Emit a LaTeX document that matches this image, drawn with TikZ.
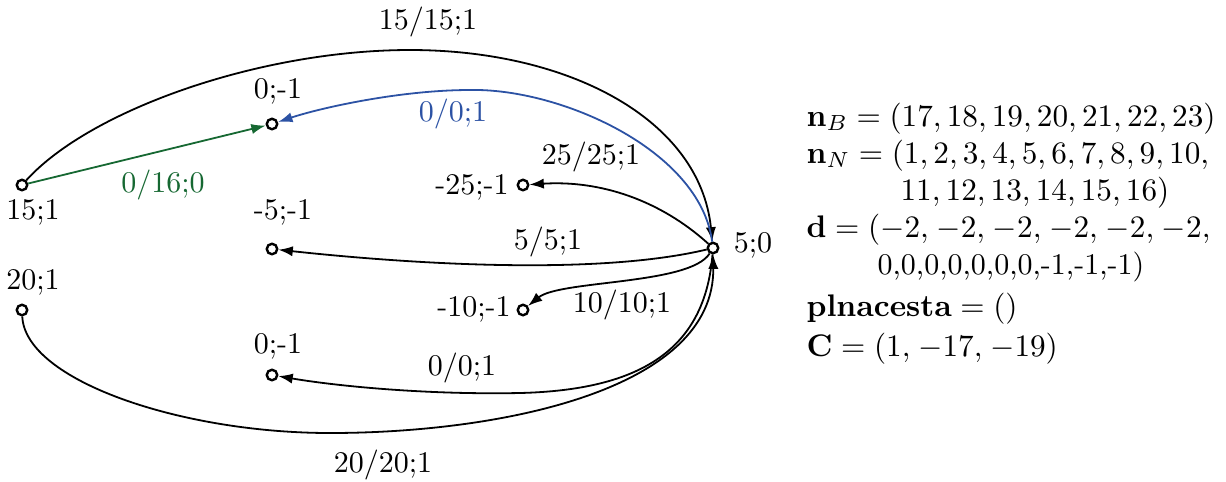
\documentclass[tikz,border=0pt]{standalone}
\usepackage{amsmath}
\usepackage{graphicx}
\usetikzlibrary{arrows.meta}
\definecolor{pathgreen}{RGB}{22,104,50}
\definecolor{pathblue}{RGB}{44,82,164}
\newcommand{\eqbox}[1]{\scalebox{1.04}{$#1$}}
\begin{document}
\begin{tikzpicture}[x=0.3333pt,y=-0.3333pt,
  vtx/.style={circle,draw,line width=0.8pt,fill=white,inner sep=0pt,minimum size=3.5pt},
  arc/.style={line width=0.6pt,-{Latex[length=4.8pt,width=3.4pt]}},
  lbl/.style={inner sep=0pt},
  eq/.style={inner sep=0pt,anchor=base west}]
\useasboundingbox (0,0) rectangle (1226,481);

% vertices
\node[vtx] (A) at (22,185) {};
\node[vtx] (B) at (272,124) {};
\node[vtx] (C) at (272,249) {};
\node[vtx] (D) at (22,310) {};
\node[vtx] (E) at (272,375) {};
\node[vtx] (F) at (523,185) {};
\node[vtx] (G) at (523,310) {};
\node[vtx] (H) at (713,248) {};

% vertex labels
\node[lbl] (lA) at (33,212) {15;1};
\node[lbl] (lB) at (278,91) {0;-1};
\node[lbl] (lC) at (283,212) {-5;-1};
\node[lbl] (lD) at (33,282) {20;1};
\node[lbl] (lE) at (278,346) {0;-1};
\node[lbl] (lF) at (472,187) {-25;-1};
\node[lbl] (lG) at (474,309) {-10;-1};
\node[lbl] (lH) at (753,245) {5;0};

% edges
\coordinate (P) at (410,50);
\draw[arc] (A) .. controls (90,110) and (260,50) .. (P)
               .. controls (570,50) and (700,120) .. (H);
\draw[arc,pathgreen] (A) -- (B);
\coordinate (Q) at (470,90);
\draw[arc,pathblue] (H) .. controls (700,150) and (560,88) .. (Q)
                        .. controls (400,90) and (320,108) .. (B);
\draw[arc] (H) .. controls (660,200) and (600,180) .. (F);
\draw[arc] (H) .. controls (600,275) and (420,265) .. (C);
\draw[arc] (H) .. controls (690,285) and (560,280) .. (G);
\coordinate (R) at (520,393);
\draw[arc] (H) .. controls (705,350) and (640,390) .. (R)
               .. controls (420,395) and (330,385) .. (E);
\coordinate (L) at (330,433);
\draw[arc] (D) .. controls (25,380) and (180,433) .. (L)
               .. controls (500,433) and (715,390) .. (H);

% edge labels
\node[lbl] (e1) at (428,22) {15/15;1};
\node[lbl,text=pathgreen] (e2) at (163,185) {0/16;0};
\node[lbl,text=pathblue] (e3) at (453,114) {0/0;1};
\node[lbl] (e4) at (591,157) {25/25;1};
\node[lbl] (e5) at (548,242) {5/5;1};
\node[lbl] (e6) at (622,305) {10/10;1};
\node[lbl] (e7) at (462,368) {0/0;1};
\node[lbl] (e8) at (383,465) {20/20;1};

% equations
\node[eq] (q1) at (806,126) {\eqbox{\mathbf{n}_B = (17, 18, 19, 20, 21, 22, 23)}};
\node[eq] (q2) at (806,163) {\eqbox{\mathbf{n}_N = (1, 2, 3, 4, 5, 6, 7, 8, 9, 10,}};
\node[eq] (q3) at (900,200) {\eqbox{11, 12, 13, 14, 15, 16)}};
\node[eq] (q4) at (806,237) {\eqbox{\mathbf{d} = (-2,\mkern1.5mu -2,\mkern1.5mu -2,\mkern1.5mu -2,\mkern1.5mu -2,\mkern1.5mu -2,}};
\node[eq] (q5) at (877,274) {0,0,0,0,0,0,0,-1,-1,-1)};
\node[eq] (q6) at (806,316) {\eqbox{\mathbf{plnacesta} = ()}};
\node[eq] (q7) at (806,356) {\eqbox{\mathbf{C} = (1,\mkern1.5mu -17,\mkern1.5mu -19)}};
\end{tikzpicture}
\end{document}
